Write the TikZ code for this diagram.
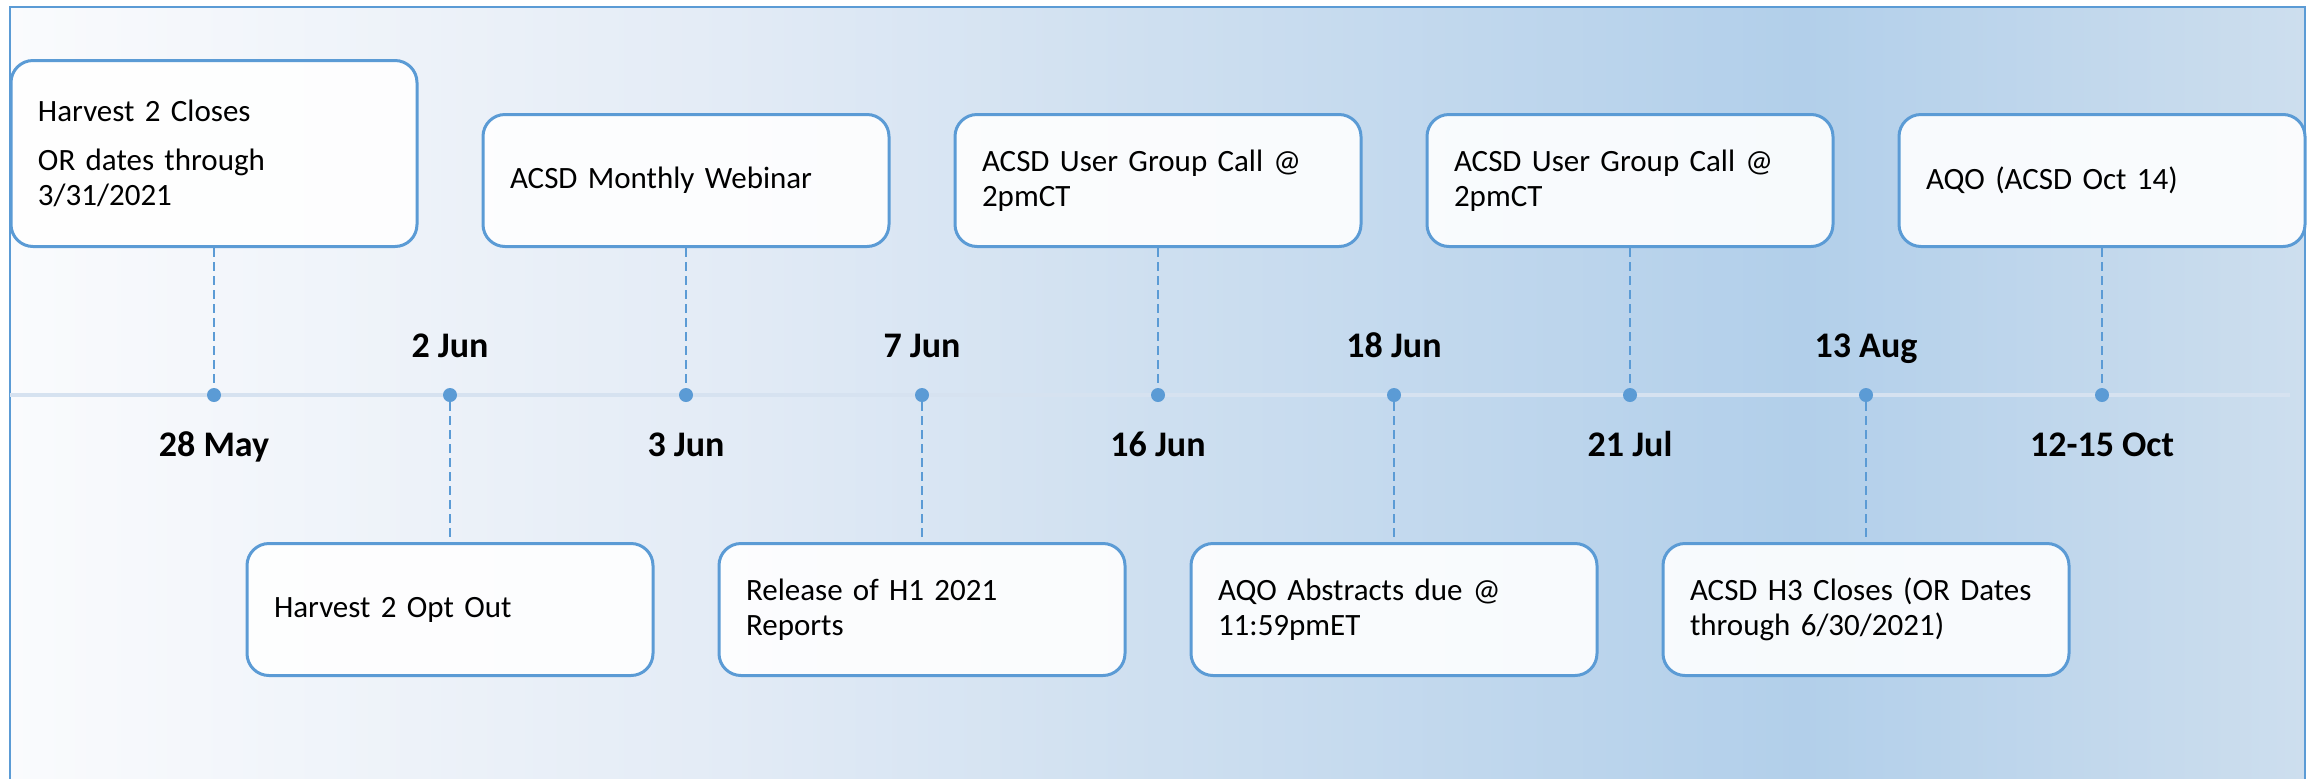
\documentclass[tikz,border=0pt]{standalone}
\usepackage{fontspec}
\setmainfont{Carlito}
\usepackage{tikz}
\usetikzlibrary{positioning}

\definecolor{tlblue}{RGB}{91,155,213}
\definecolor{tlaxis}{RGB}{214,226,240}
\pgfdeclarehorizontalshading{tlfade}{100bp}{rgb(0bp)=(0.980,0.984,0.992); rgb(25bp)=(0.980,0.984,0.992); rgb(40bp)=(0.894,0.925,0.965); rgb(50bp)=(0.808,0.875,0.941); rgb(64bp)=(0.698,0.812,0.918); rgb(75bp)=(0.804,0.871,0.933); rgb(100bp)=(0.804,0.871,0.933)}

\begin{document}
\begin{tikzpicture}[
    x=0.5pt, y=0.5pt,
    event/.style={rectangle, draw=tlblue, line width=1.5pt, rounded corners=11pt, fill=white, fill opacity=0.9, text opacity=1, text width=176pt, inner xsep=13.5pt, inner ysep=4pt, minimum height=66pt, align=left, font=\fontsize{15.5pt}{17.5pt}\selectfont},
    datelbl/.style={anchor=base, inner sep=0pt, font=\fontsize{18pt}{20pt}\selectfont\bfseries},
    dot/.style={circle, fill=tlblue, minimum size=7pt, inner sep=0pt},
    link/.style={tlblue, line width=0.75pt, dash pattern=on 4.5pt off 2.5pt},
    timeline/.style={tlaxis, line width=2pt}
]
    \useasboundingbox (0,0) rectangle (2315,-778);

    % Background panel
    \path[shade, shading=tlfade, draw=tlblue, line width=1.25pt] (10,-7) rectangle (2305,-800);

    % Axis
    \coordinate (tl-start) at (10,-395);
    \coordinate (tl-end) at (2290,-395);
    \draw[timeline] (tl-start) -- (tl-end);

    % Milestones on the axis
    \node[dot] (d0) at (214,-395) {};
    \node[dot] (d1) at (450,-395) {};
    \node[dot] (d2) at (686,-395) {};
    \node[dot] (d3) at (922,-395) {};
    \node[dot] (d4) at (1158,-395) {};
    \node[dot] (d5) at (1394,-395) {};
    \node[dot] (d6) at (1630,-395) {};
    \node[dot] (d7) at (1866,-395) {};
    \node[dot] (d8) at (2102,-395) {};

    % Dates
    \node[datelbl] (l0) at ([yshift=-30.5pt]d0.center) {28 May};
    \node[datelbl] (l1) at ([yshift=19pt]d1.center) {2 Jun};
    \node[datelbl] (l2) at ([yshift=-30.5pt]d2.center) {3 Jun};
    \node[datelbl] (l3) at ([yshift=19pt]d3.center) {7 Jun};
    \node[datelbl] (l4) at ([yshift=-30.5pt]d4.center) {16 Jun};
    \node[datelbl] (l5) at ([yshift=19pt]d5.center) {18 Jun};
    \node[datelbl] (l6) at ([yshift=-30.5pt]d6.center) {21 Jul};
    \node[datelbl] (l7) at ([yshift=19pt]d7.center) {13 Aug};
    \node[datelbl] (l8) at ([yshift=-30.5pt]d8.center) {12-15 Oct};

    % Events above the axis
    \node[event, anchor=south, minimum height=93pt] (e0) at ([yshift=73.5pt]d0.center) {Harvest 2 Closes\\[7pt]OR dates through\\3/31/2021};
    \node[event, anchor=south] (e2) at ([yshift=73.5pt]d2.center) {ACSD Monthly Webinar};
    \node[event, anchor=south] (e4) at ([yshift=73.5pt]d4.center) {\mbox{ACSD User Group Call @}\\2pmCT};
    \node[event, anchor=south] (e6) at ([yshift=73.5pt]d6.center) {\mbox{ACSD User Group Call @}\\2pmCT};
    \node[event, anchor=south] (e8) at ([yshift=73.5pt]d8.center) {AQO (ACSD Oct 14)};

    % Events below the axis
    \node[event, anchor=north] (e1) at ([yshift=-73.5pt]d1.center) {Harvest 2 Opt Out};
    \node[event, anchor=north] (e3) at ([yshift=-73.5pt]d3.center) {Release of H1 2021\\Reports};
    \node[event, anchor=north] (e5) at ([yshift=-73.5pt]d5.center) {AQO Abstracts due @\\11:59pmET};
    \node[event, anchor=north] (e7) at ([yshift=-73.5pt]d7.center) {\mbox{ACSD H3 Closes (OR Dates}\\through 6/30/2021)};

    % Leaders
    \draw[link] (e0) -- (d0);
    \draw[link] (e2) -- (d2);
    \draw[link] (e4) -- (d4);
    \draw[link] (e6) -- (d6);
    \draw[link] (e8) -- (d8);
    \draw[link] (d1) -- (e1);
    \draw[link] (d3) -- (e3);
    \draw[link] (d5) -- (e5);
    \draw[link] (d7) -- (e7);

\end{tikzpicture}
\end{document}
